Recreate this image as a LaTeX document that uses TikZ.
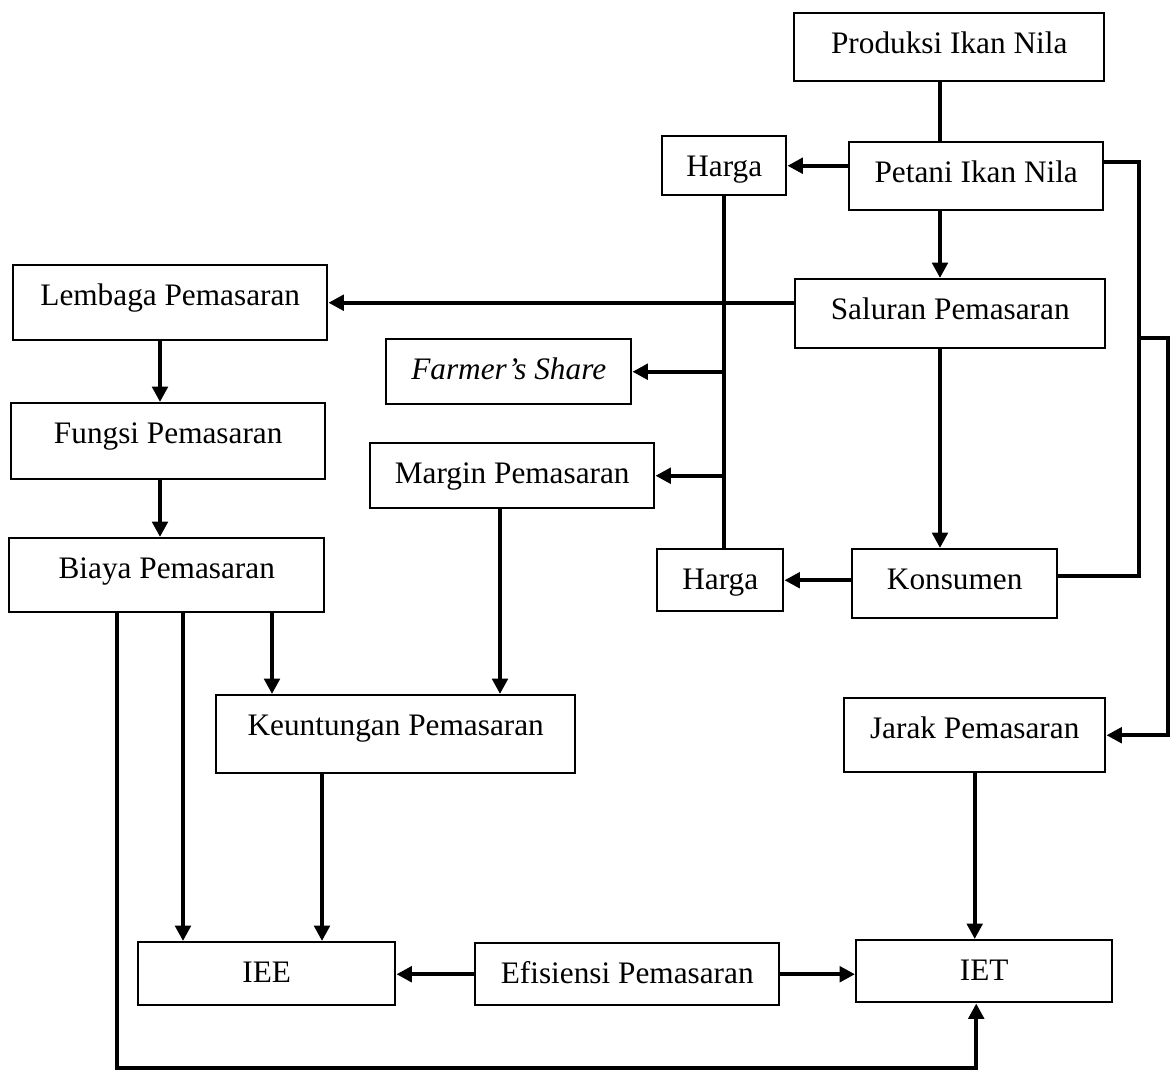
\documentclass[tikz,border=0pt]{standalone}
\usepackage{fontspec}
\setmainfont{Liberation Serif}
\usetikzlibrary{arrows.meta}

\begin{document}
\begin{tikzpicture}[
        kotak/.style 2 args={draw, line width=0.7pt, anchor=north west, inner xsep=0pt, inner ysep=0pt,
            minimum width=#1, text height=0.40cm, text depth=#2, font=\fontsize{8.9pt}{10pt}\selectfont},
        garis/.style={line width=1.15pt},
        panah/.style={garis, -{Triangle[length=4.4pt,width=4.4pt]}}]
    \useasboundingbox (0,0) rectangle (11.71,-10.70);
    \node[kotak={3.10cm}{0.28cm}] (produksi) at (7.93,-0.12) {Produksi Ikan Nila};
    \node[kotak={2.54cm}{0.28cm}] (petani) at (8.48,-1.41) {Petani Ikan Nila};
    \node[kotak={1.24cm}{0.19cm}] (hargaA) at (6.61,-1.35) {Harga};
    \node[kotak={3.10cm}{0.29cm}] (saluran) at (7.94,-2.78) {Saluran Pemasaran};
    \node[kotak={3.14cm}{0.35cm}] (lembaga) at (0.12,-2.64) {Lembaga Pemasaran};
    \node[kotak={2.45cm}{0.25cm}] (farmer) at (3.85,-3.38) {\textit{Farmer’s Share}};
    \node[kotak={3.14cm}{0.36cm}] (fungsi) at (0.10,-4.02) {Fungsi Pemasaran};
    \node[kotak={2.84cm}{0.25cm}] (margin) at (3.69,-4.42) {Margin Pemasaran};
    \node[kotak={3.15cm}{0.34cm}] (biaya) at (0.08,-5.37) {Biaya Pemasaran};
    \node[kotak={1.26cm}{0.22cm}] (hargaB) at (6.56,-5.48) {Harga};
    \node[kotak={2.05cm}{0.29cm}] (konsumen) at (8.51,-5.48) {Konsumen};
    \node[kotak={3.59cm}{0.38cm}] (keuntungan) at (2.15,-6.94) {Keuntungan Pemasaran};
    \node[kotak={2.61cm}{0.34cm}] (jarak) at (8.43,-6.97) {Jarak Pemasaran};
    \node[kotak={2.57cm}{0.23cm}] (iee) at (1.37,-9.41) {IEE};
    \node[kotak={3.04cm}{0.22cm}] (efisiensi) at (4.74,-9.42) {Efisiensi Pemasaran};
    \node[kotak={2.56cm}{0.22cm}] (iet) at (8.55,-9.39) {IET};

    \coordinate (poros) at (9.40,0);
    \coordinate (kiri) at (1.60,0);
    \coordinate (cabang) at (11.37,-3.38);
    \coordinate (bawah) at (1.17,-10.68);

    \draw[garis] (produksi.south -| poros) -- (petani.north -| poros);
    \draw[panah] (petani.south -| poros) -- (saluran.north -| poros);
    \draw[panah] (saluran.south -| poros) -- (konsumen.north -| poros);
    \draw[panah] (petani.west |- hargaA.east) -- (hargaA.east);
    \draw[panah] (saluran.west |- lembaga.east) -- (lembaga.east);
    \draw[garis] (hargaA.south) -- (hargaA.south |- hargaB.north);
    \draw[panah] (hargaA.south |- farmer.east) -- (farmer.east);
    \draw[panah] (hargaA.south |- margin.east) -- (margin.east);
    \draw[panah] (konsumen.west |- hargaB.east) -- (hargaB.east);
    \draw[garis] ([yshift=1.4mm]petani.east) -- ++(0.35,0) |- ([yshift=0.75mm]konsumen.east);
    \draw[panah] (cabang) -- (11.68,-3.38) |- (jarak.east);

    \draw[panah] (lembaga.south -| kiri) -- (fungsi.north -| kiri);
    \draw[panah] (fungsi.south -| kiri) -- (biaya.north -| kiri);
    \draw[panah] ([xshift=1.75cm]biaya.south west) -- ([xshift=1.75cm]biaya.south west |- iee.north);
    \draw[panah] ([xshift=2.64cm]biaya.south west) -- ([xshift=2.64cm]biaya.south west |- keuntungan.north);
    \draw[panah] (biaya.south -| bawah) -- (bawah) -| ([xshift=-0.08cm]iet.south);
    \draw[panah] ([xshift=1.31cm]margin.south west) -- ([xshift=1.31cm]margin.south west |- keuntungan.north);
    \draw[panah] ([xshift=1.07cm]keuntungan.south west) -- ([xshift=1.07cm]keuntungan.south west |- iee.north);
    \draw[panah] (efisiensi.west) -- (efisiensi.west -| iee.east);
    \draw[panah] (efisiensi.east) -- (efisiensi.east -| iet.west);
    \draw[panah] (jarak.south) -- (jarak.south |- iet.north);
\end{tikzpicture}
\end{document}
